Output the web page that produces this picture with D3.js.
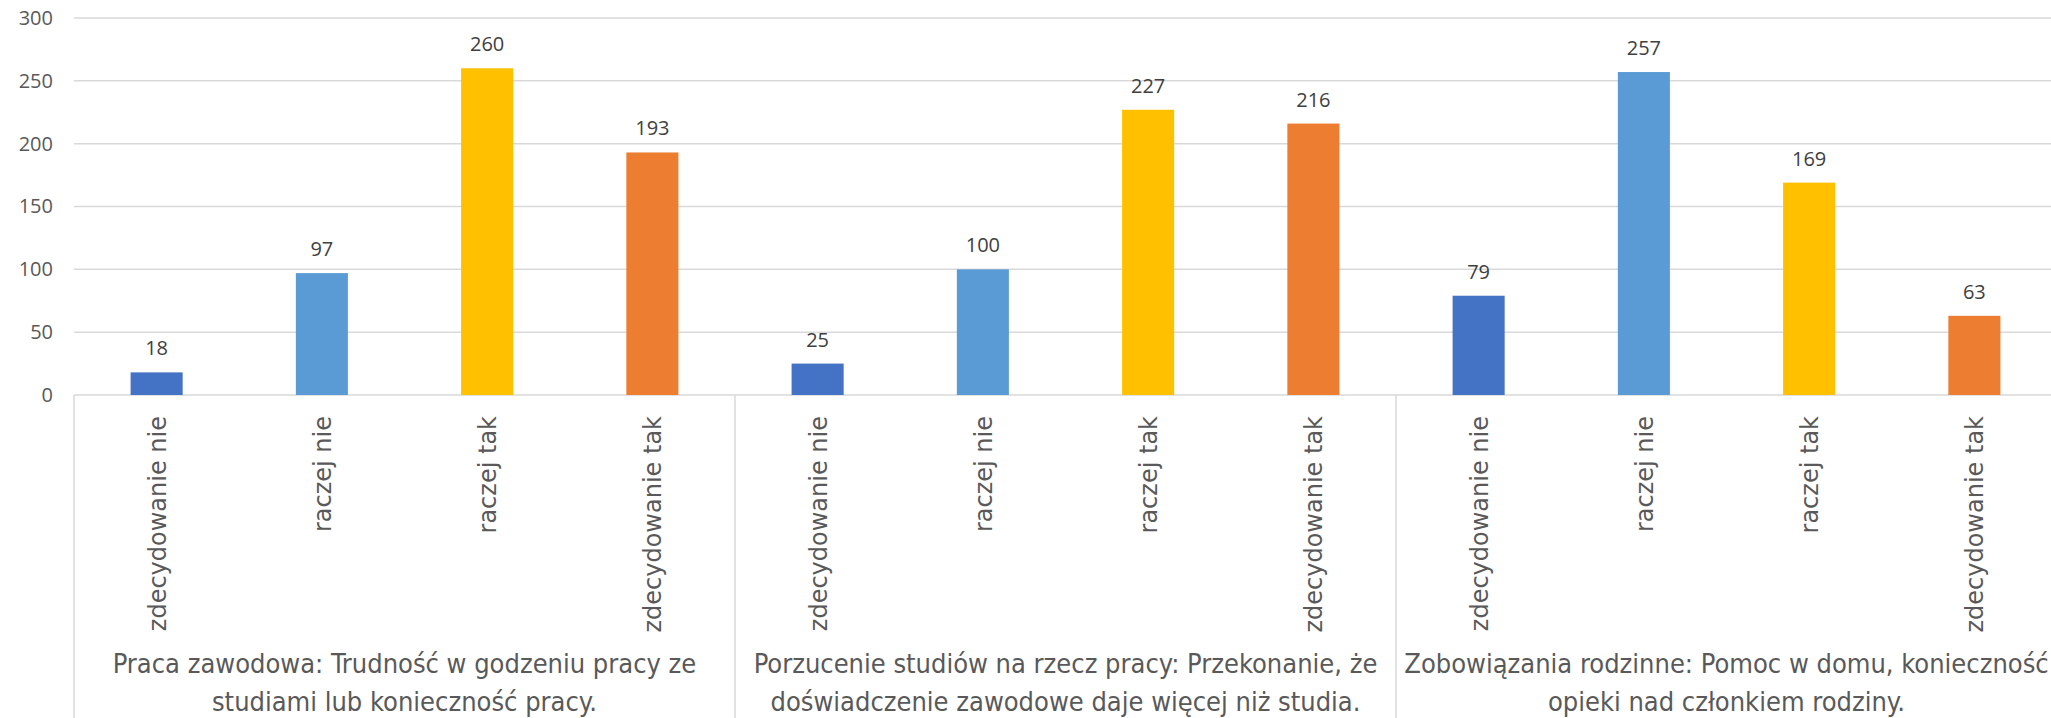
<!doctype html>
<meta charset="utf-8">
<script src="https://d3js.org/d3.v7.min.js"></script>
<style>
  body { margin: 0; background: #fff; }
  svg { display: block; }
</style>
<body></body>
<script>

var groups = [
    "Praca zawodowa: Trudność w godzeniu pracy ze|studiami lub konieczność pracy.",
    "Porzucenie studiów na rzecz pracy: Przekonanie, że|doświadczenie zawodowe daje więcej niż studia.",
    "Zobowiązania rodzinne: Pomoc w domu, konieczność|opieki nad członkiem rodziny."
];
var answers = ["zdecydowanie nie", "raczej nie", "raczej tak", "zdecydowanie tak"];
var group1 = [18, 97, 260, 193];
var group2 = [25, 100, 227, 216];
var group3 = [79, 257, 169, 63];
var yTicks = [0, 50, 100, 150, 200, 250, 300];
var colors = ["#4472C4", "#5B9BD5", "#FFC000", "#ED7D31"];

var width = 2051;
var height = 718;
var plotLeft = 74, plotTop = 18, plotBottom = 395;
var groupW = 661;

var svg = d3.select("body")
        .append("svg")
        .attr("width", width)
        .attr("height", height);

var x0 = d3.scaleBand()
        .domain(d3.range(groups.length))
        .range([plotLeft, plotLeft + groupW * groups.length]);

var x1 = d3.scaleBand()
        .domain(answers)
        .range([0, x0.bandwidth()])
        .paddingInner(0.685)
        .paddingOuter(0.685 / 2);

var y = d3.scaleLinear()
        .domain([0, 300])
        .range([plotBottom, plotTop]);

var color = d3.scaleOrdinal().domain(answers).range(colors);

// grid lines
svg.append("g")
    .selectAll("line")
    .data(yTicks.slice(1))
    .enter().append("line")
        .attr("x1", plotLeft)
        .attr("x2", width)
        .attr("y1", d => y(d))
        .attr("y2", d => y(d))
        .style("stroke", "#d9d9d9")
        .style("stroke-width", 1.5);

// y axis labels
var yAxis = svg.append("g")
        .attr("transform", "translate(53,0)")
        .call(d3.axisLeft(y).tickValues(yTicks).tickSize(0).tickPadding(0));
yAxis.select(".domain").remove();
yAxis.selectAll("text")
    .style("font-family", "'Open Sans', sans-serif")
    .style("font-size", "20px")
    .style("fill", "#595959");

// baseline + group separators
svg.append("line")
    .attr("x1", plotLeft).attr("x2", width)
    .attr("y1", plotBottom).attr("y2", plotBottom)
    .style("stroke", "#d9d9d9").style("stroke-width", 1.5);

svg.append("g")
    .selectAll("line")
    .data(d3.range(groups.length + 1))
    .enter().append("line")
        .attr("x1", d => plotLeft + groupW * d)
        .attr("x2", d => plotLeft + groupW * d)
        .attr("y1", plotBottom)
        .attr("y2", height)
        .style("stroke", "#d9d9d9")
        .style("stroke-width", 1.5);

var data = [group1, group2, group3];

var g = svg.selectAll(".grp")
        .data(data)
        .enter().append("g")
        .attr("class", "grp")
        .attr("transform", (d, i) => "translate(" + x0(i) + ",0)");

g.selectAll("rect")
    .data(d => d.map((v, j) => ({ key: answers[j], value: v })))
    .enter().append("rect")
        .attr("x", d => x1(d.key))
        .attr("width", x1.bandwidth())
        .attr("y", d => y(d.value))
        .attr("height", d => y(0) - y(d.value))
        .style("fill", d => color(d.key));

g.selectAll(".val")
    .data(d => d.map((v, j) => ({ key: answers[j], value: v })))
    .enter().append("text")
        .attr("class", "val")
        .attr("x", d => x1(d.key) + x1.bandwidth() / 2)
        .attr("y", d => y(d.value) - 17)
        .attr("text-anchor", "middle")
        .style("font-family", "'Open Sans', sans-serif")
        .style("font-size", "20px")
        .style("fill", "#404040")
        .text(d => d.value);

// rotated category labels
g.selectAll(".cat")
    .data(answers)
    .enter().append("text")
        .attr("class", "cat")
        .attr("transform", d => "translate(" + (x1(d) + x1.bandwidth() / 2 + 9) + "," + (plotBottom + 21) + ") rotate(-90)")
        .attr("text-anchor", "end")
        .style("font-family", "'DejaVu Sans', sans-serif")
        .style("font-size", "24px")
        .style("fill", "#595959")
        .text(d => d);

// group labels
g.append("text")
    .attr("class", "glabel")
    .attr("x", x0.bandwidth() / 2)
    .attr("y", 673)
    .attr("text-anchor", "middle")
    .style("font-family", "'Liberation Sans Narrow', 'DejaVu Sans Condensed', sans-serif")
    .style("font-size", "27px")
    .style("fill", "#595959")
    .selectAll("tspan")
    .data((d, i) => groups[i].split("|"))
    .enter().append("tspan")
        .attr("x", x0.bandwidth() / 2)
        .attr("dy", (d, i) => i === 0 ? 0 : 38)
        .text(d => d);

</script>
